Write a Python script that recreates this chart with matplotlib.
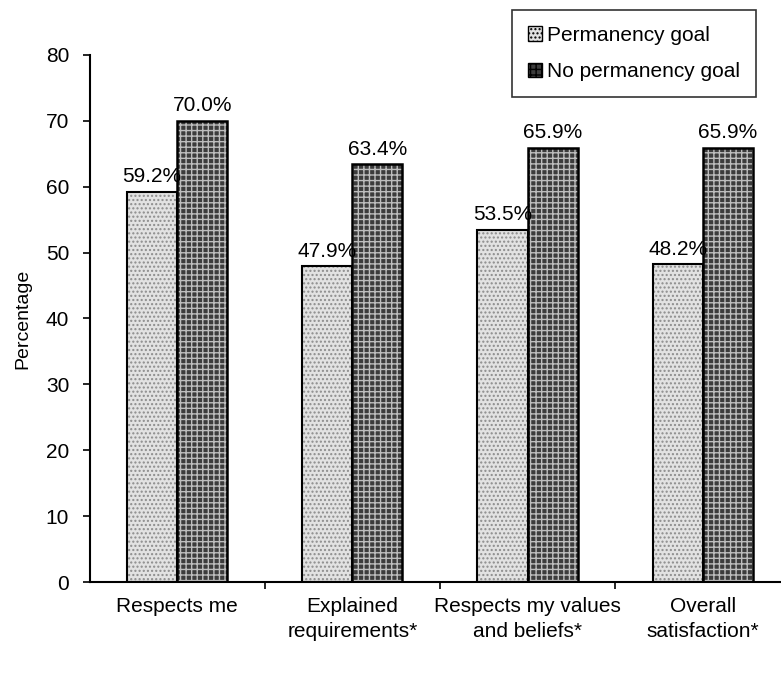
import matplotlib
matplotlib.use("Agg")
import matplotlib.pyplot as plt
import numpy as np
from matplotlib.patches import Patch

plt.rcParams['font.family'] = ['Liberation Sans', 'DejaVu Sans']

categories = ["Respects me", "Explained\nrequirements*",
              "Respects my values\nand beliefs*", "Overall\nsatisfaction*"]
permanency = [59.2, 47.9, 53.5, 48.2]
no_permanency = [70.0, 63.4, 65.9, 65.9]
series_names = ["Permanency goal", "No permanency goal"]
yticks = [0, 10, 20, 30, 40, 50, 60, 70, 80]

fig = plt.figure(figsize=(7.81, 6.73), dpi=100)
ax = fig.add_axes([0.1152, 0.1352, 0.8835, 0.7831])

x = np.arange(len(categories))
w = 0.286

light_face = "#e2e2e2"
dark_face = "#3c3c3c"

# textured fills: hatch layer first, then crisp black outline on top
ax.bar(x - w / 2, permanency, w, color=light_face, edgecolor="#8c8c8c",
       hatch="....", linewidth=0, zorder=2)
ax.bar(x + w / 2, no_permanency, w, color=dark_face, edgecolor="#bdbdbd",
       hatch="+++", linewidth=0, zorder=2)
ax.bar(x - w / 2, permanency, w, fill=False, edgecolor="black", linewidth=1.5, zorder=3)
ax.bar(x + w / 2, no_permanency, w, fill=False, edgecolor="black", linewidth=1.8, zorder=3)

fs = 15
for xi, v in zip(x - w / 2, permanency):
    ax.annotate(f"{v:.1f}%", (xi, v), xytext=(0, 4), textcoords="offset points",
                ha="center", va="bottom", fontsize=fs)
for xi, v in zip(x + w / 2, no_permanency):
    ax.annotate(f"{v:.1f}%", (xi, v), xytext=(0, 4), textcoords="offset points",
                ha="center", va="bottom", fontsize=fs)

ax.set_ylim(0, 80)
ax.set_xlim(-0.497, 3.44)
ax.set_yticks(yticks)
ax.tick_params(axis="y", labelsize=fs, length=5, width=1.2, direction="out", pad=10)

ax.set_xticks(x)
ax.set_xticklabels(categories, fontsize=fs, linespacing=1.35)
ax.tick_params(axis="x", which="major", length=0, pad=11)
ax.set_xticks(x[:-1] + 0.5, minor=True)
ax.tick_params(axis="x", which="minor", length=5, width=1.2, direction="out")

ax.set_ylabel("Percentage", fontsize=14, labelpad=10)

for s in ("top", "right"):
    ax.spines[s].set_visible(False)
for s in ("left", "bottom"):
    ax.spines[s].set_linewidth(1.5)

handles = [
    Patch(facecolor=light_face, edgecolor="black", hatch="....", linewidth=1.0),
    Patch(facecolor=dark_face, edgecolor="black", hatch="+++", linewidth=1.0),
]
leg = fig.legend(handles, series_names, loc="upper left",
                 bbox_to_anchor=(512 / 781, 1 - 10 / 673),
                 fontsize=fs, frameon=True, fancybox=False, edgecolor="black",
                 handlelength=0.7, handleheight=0.7, handletextpad=0.25,
                 labelspacing=0.85, borderpad=0.75, borderaxespad=0)
leg.get_frame().set_linewidth(1.2)

fig.savefig("out.png", dpi=100)
